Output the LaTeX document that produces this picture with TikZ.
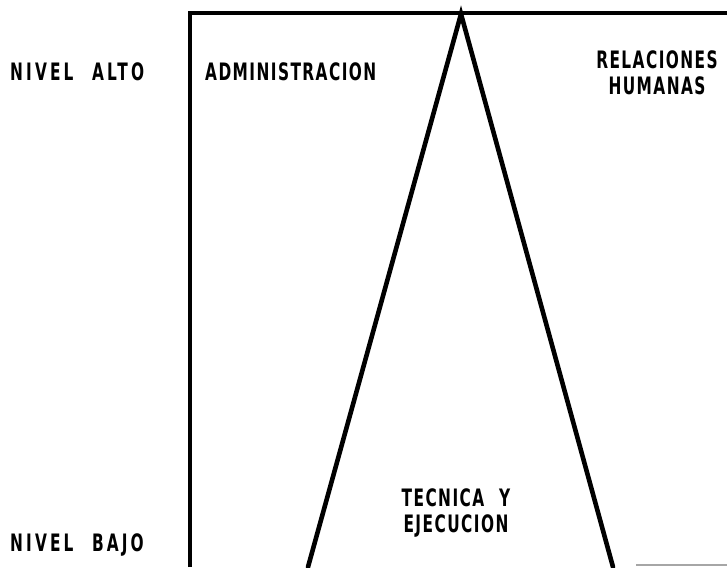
\documentclass[tikz,border=0pt]{standalone}
\usepackage{fontspec}
\setsansfont{DejaVu Sans}[FakeStretch=0.64,LetterSpace=6,WordSpace=2.2]
\tikzset{
  lbl/.style={font=\sffamily\fontsize{24}{28}\selectfont\bfseries, inner sep=0pt, align=center},
  wide/.style={font=\sffamily\fontsize{24}{28}\selectfont\bfseries\addfontfeature{LetterSpace=13}},
  frame/.style={line width=3.4pt},
  edge/.style={line width=4.6pt, line cap=round},
}
\begin{document}
\begin{tikzpicture}[x=1pt,y=1pt]
\useasboundingbox (0,0) rectangle (727,567);
% corners of the frame and of the central wedge
\coordinate (bl) at (190,0);
\coordinate (tl) at (190,554);
\coordinate (tr) at (727,554);
\coordinate (apex) at (461,553);
\coordinate (lb) at (308,0);
\coordinate (rb) at (613,0);
\coordinate (s1) at (636,2);
\coordinate (s2) at (727,2);
% frame
\draw[frame] (bl) -- (tl) -- (tr);
\draw[line width=1.4pt, gray!70] (s1) -- (s2);
% wedge
\draw[edge] (lb) -- (apex) -- (rb);
% labels
\node[lbl, wide, anchor=west] (alto) at (10,495) {NIVEL ALTO};
\node[lbl, wide, anchor=west] (bajo) at (10,22) {NIVEL BAJO};
\node[lbl, anchor=west] (adm) at (205,495) {ADMINISTRACION};
\node[lbl] (rel) at (657,494) {RELACIONES\\[-2pt]HUMANAS};
\node[lbl] (tec) at (456,54) {TECNICA Y\\[-2pt]EJECUCION};
\end{tikzpicture}
\end{document}
